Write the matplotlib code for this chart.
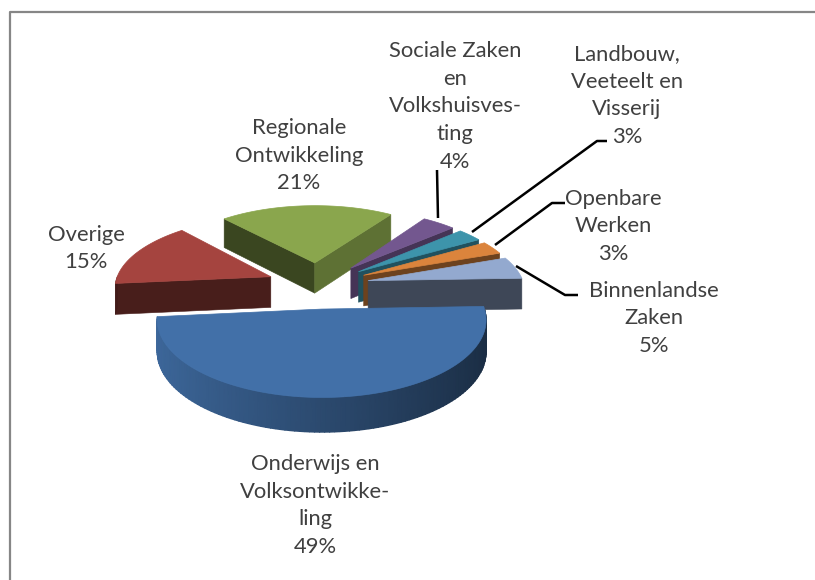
import numpy as np
import matplotlib
matplotlib.use('Agg')
from matplotlib import pyplot as plt
from matplotlib.colors import LinearSegmentedColormap

# clockwise order, first slice starts at start_angle
departments = ['Onderwijs en\nVolksontwikke-\nling', 'Overige', 'Regionale\nOntwikkeling',
               'Sociale Zaken\nen\nVolkshuisves-\nting', 'Landbouw,\nVeeteelt en\nVisserij',
               'Openbare\nWerken', 'Binnenlandse\nZaken']
shares = [49, 15, 21, 4, 3, 3, 5]
colors = ['#4270A8', '#A5443F', '#8AA64D', '#73578F', '#3D94AB', '#DB843C', '#93A9CF']
label_x = [315, 86, 299, 455, 627, 613, 654]
label_y = [505.5, 248.5, 155.5, 106.5, 95.5, 226.5, 318.5]

# leader lines, pixel positions
leaders = [([437, 438], [170, 218]),
           ([607, 597, 472], [141, 141, 232]),
           ([565, 552, 495], [203, 203, 245]),
           ([578, 565, 516], [295, 295, 266])]

start_angle = 2.0
explode = 0.33
cx, cy = 318.0, 285.0
rx, ry, persp = 156.0, 70.0, 0.13
depth = 31.0


def project(X, Y):
    s = 1.0 / (1.0 + persp * Y)
    return cx + rx * X * s, cy - ry * Y * s, depth * s ** 0.6


def dim(color, f):
    return tuple(c * f for c in matplotlib.colors.to_rgb(color))


fig = plt.figure(figsize=(8.15, 5.8), dpi=100)
ax = fig.add_axes([0, 0, 1, 1])
ax.set_xlim(0, 815)
ax.set_ylim(580, 0)
ax.axis('off')

# slice outlines in disc coordinates
edges = np.cumsum([0] + shares) * 3.6
slices = []
for i, share in enumerate(shares):
    t0 = start_angle - edges[i]
    t1 = start_angle - edges[i + 1]
    mid = np.radians((t0 + t1) / 2)
    ox, oy = explode * np.cos(mid), explode * np.sin(mid)
    theta = np.radians(np.linspace(t0, t1, max(int(abs(t1 - t0) / 1.5), 6)))
    X = np.r_[ox, ox + np.cos(theta)]
    Y = np.r_[oy, oy + np.sin(theta)]
    slices.append((oy, i, X, Y, theta))

for oy, i, X, Y, theta in sorted(slices, key=lambda s: -s[0]):
    px, py, dp = project(X, Y)
    n = len(X)

    # flat side walls
    for a, b in [(0, 1), (n - 1, 0)]:
        dx, dy = X[b] - X[a], Y[b] - Y[a]
        if dx >= 0:
            continue  # faces away
        normal = np.degrees(np.arctan2(dx, -dy))
        f = np.interp(normal, [-138, -96, -88, -70, -59, -48, -34],
                      [.42, .40, .42, .50, .55, .60, .68])
        c = dim(colors[i], f)
        ax.fill([px[a], px[b], px[b], px[a]],
                [py[a], py[b], py[b] + dp[b], py[a] + dp[a]],
                facecolor=c, edgecolor=c, linewidth=0.4)

    # rounded wall, smooth shading
    arc = [a for a in range(1, n) if (a < n - 1 and X[a + 1] < X[a]) or (a > 1 and X[a] < X[a - 1])]
    if len(arc) > 10:
        arc = np.array(arc)
        shade = 0.66 - 0.26 * np.cos(theta[arc - 1])
        cmap = LinearSegmentedColormap.from_list('rim', [dim(colors[i], 0.40), dim(colors[i], 0.92)])
        ax.pcolormesh(np.vstack([px[arc], px[arc]]),
                      np.vstack([py[arc], py[arc] + dp[arc]]),
                      np.vstack([shade, shade]),
                      shading='gouraud', cmap=cmap, vmin=0.40, vmax=0.92)
    elif len(arc) > 1:
        c = dim(colors[i], 0.40)
        ax.fill(np.r_[px[arc], px[arc][::-1]], np.r_[py[arc], (py + dp)[arc][::-1]],
                facecolor=c, edgecolor=c, linewidth=0.4)

    ax.fill(px, py, facecolor=colors[i], edgecolor=colors[i], linewidth=0.5)

for lx, ly in leaders:
    ax.plot(lx, ly, color='black', linewidth=1.8, solid_capstyle='butt')

for name, share, x, y in zip(departments, shares, label_x, label_y):
    ax.text(x, y, '%s\n%d%%' % (name, share), ha='center', va='center', multialignment='center',
            family='Lato', fontsize=15.8, color='#404040', linespacing=1.48)

# frame of the chart area
ax.plot([9.5, 9.5, 815], [580, 11.5, 11.5], color='#868686', linewidth=1.6)

fig.savefig('out.png', dpi=100)
